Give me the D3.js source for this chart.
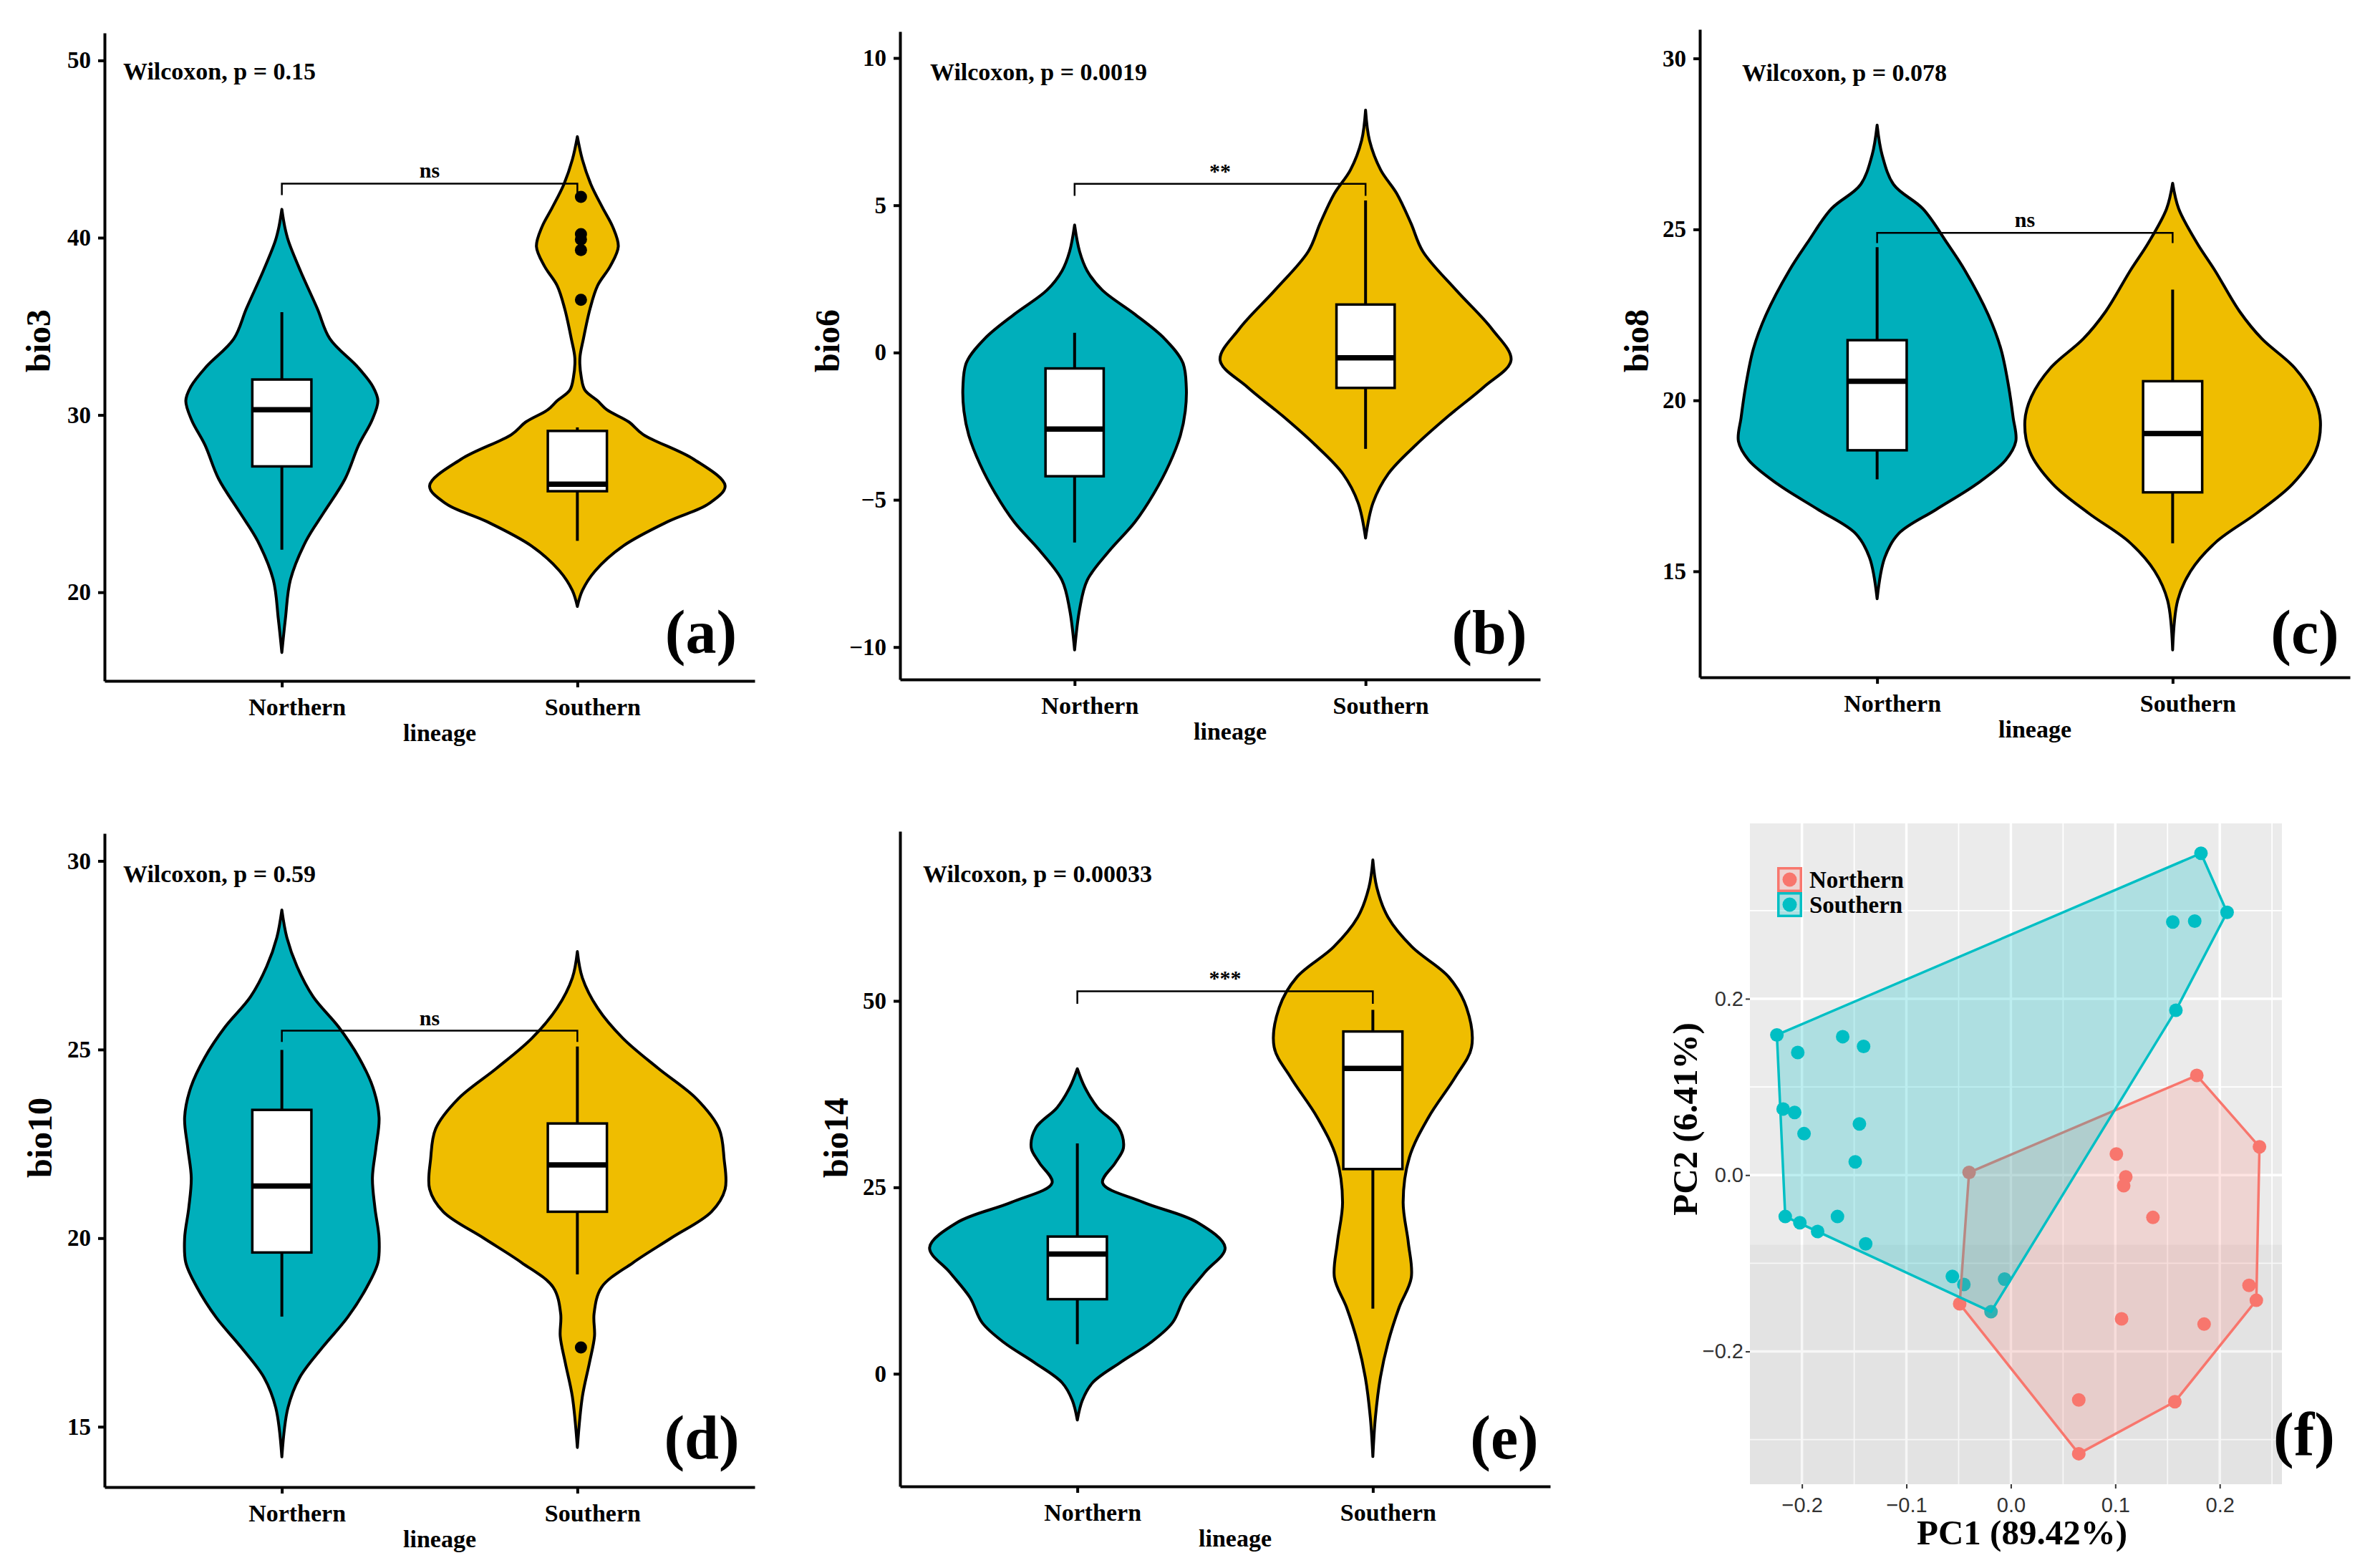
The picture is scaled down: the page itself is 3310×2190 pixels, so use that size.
<!DOCTYPE html>
<html>
<head>
<meta charset="utf-8">
<script src="https://cdn.jsdelivr.net/npm/d3@7"></script>
<style>
  body { margin: 0; background: #fff; }
  svg text { font-family: "Liberation Serif", "Times New Roman", serif; font-weight: bold; fill: #000; }
  svg text.sans { font-family: "Liberation Sans", Arial, sans-serif; font-weight: normal; fill: #333; }
</style>
</head>
<body>
<div id="chart"></div>
<script>
// ---- Data ----
const lineages = ["Northern", "Southern"];
const variables = ["bio3", "bio6", "bio8", "bio10", "bio14"];
const panelTags = ["(a)", "(b)", "(c)", "(d)", "(e)", "(f)"];
const wilcoxLabels = ["Wilcoxon, p = 0.15", "Wilcoxon, p = 0.0019", "Wilcoxon, p = 0.078",
                      "Wilcoxon, p = 0.59", "Wilcoxon, p = 0.00033"];
const wilcoxY = [49.4, 9.54, 29.6, 29.67, 67.1];
const signifLabels = ["ns", "**", "ns", "ns", "***"];
const bracketY = [43.05, 5.73, 24.9, 25.5, 51.3];
const bracketTip = [42.4, 5.32, 24.6, 25.2, 49.6];
const yTicks = [[20, 30, 40, 50], [-10, -5, 0, 5, 10], [15, 20, 25, 30], [15, 20, 25, 30], [0, 25, 50]];
const yRanges = [[15.0, 51.55], [-11.1, 10.9], [11.9, 30.85], [13.4, 30.73], [-15.1, 72.75]];

// violin outlines: [value, relative density]
const densBio3 = [
  [[41.6,0],[40.6,2],[39.8,4.5],[38.1,12.7],[36.0,24],[34.3,32.5],[32.7,51.4],[31.6,61.6],[30.8,65],[29.7,61],[28.3,52],[26.4,42.8],[24.5,28.4],[22.9,16.4],[20.7,5.8],[18.5,2.4],[16.6,0]],
  [[45.7,0],[44.4,3.4],[43.0,9.2],[41.7,17],[40.6,24],[39.5,27.7],[38.4,22.3],[37.3,13.7],[36.0,8.6],[34.3,4.1],[33.2,1.7],[32.1,2.7],[31.4,5.1],[30.8,13.7],[30.3,19.9],[29.6,35],[28.9,44.5],[27.5,78.8],[26.0,100],[25.0,89],[24.0,61.6],[22.6,30.8],[21.2,12],[20.1,3.4],[19.2,0]]
];
const densBio6 = [
  [[4.33,0],[3.43,3.4],[2.77,8.6],[2.12,18.8],[1.30,41],[0.48,61],[-0.34,73.6],[-1.17,76],[-1.99,75.3],[-2.81,72],[-3.79,64.4],[-4.78,54],[-5.76,41],[-6.75,23.3],[-7.73,8.6],[-8.72,3.4],[-10.1,0]],
  [[8.23,0],[7.2,2.7],[6.2,10.3],[5.4,21.2],[4.4,30.8],[3.43,39],[2.12,61.6],[0.8,86],[-0.26,99],[-1.17,80.5],[-2.15,56.5],[-3.14,34.2],[-4.12,15.4],[-5.1,5.1],[-6.3,0]]
];
const densBio8 = [
  [[28.05,0],[27.17,3.4],[26.3,11.3],[25.6,30.8],[24.6,47],[23.8,59],[22.5,74.7],[21.5,83.2],[20.4,88.4],[19.5,91.4],[18.8,93.2],[18.25,86.3],[17.55,66.8],[16.8,39.4],[16.1,14.4],[15.4,5.1],[14.2,0]],
  [[26.35,0],[25.6,4.1],[24.6,16.4],[23.8,28.4],[22.6,45],[21.8,60],[20.95,82],[20.1,95],[19.4,99.3],[18.5,96],[17.55,80.5],[16.7,56.5],[15.85,29],[15.0,12],[14.15,3.4],[12.7,0]]
];
const densBio10 = [
  [[28.7,0],[27.97,3.4],[27.2,10.3],[26.4,21.2],[25.6,38.4],[24.8,52],[24.0,61.6],[23.2,65.8],[22.4,63.7],[21.6,61.3],[20.8,63],[20.0,65.8],[19.35,65],[18.7,57.5],[17.9,44.5],[17.1,27.4],[16.3,12],[15.5,4.1],[14.2,0]],
  [[27.6,0],[26.9,3.4],[26.1,13.7],[25.3,30.8],[24.5,54.8],[23.7,80.5],[22.9,95.9],[22.1,99.3],[21.3,100],[20.7,90.8],[20.0,63.4],[19.35,37.7],[18.7,16.4],[18.0,11.3],[17.4,11.6],[16.7,8.2],[15.8,3.4],[14.45,0]]
];
const densBio14 = [
  [[40.9,0],[38.4,5.1],[35.7,13.7],[33.0,28],[30.3,31.2],[28.3,25.7],[25.6,17.1],[23.0,44.5],[20.3,81.2],[16.9,100],[13.6,86.3],[10.2,72.6],[6.85,64.4],[4.2,49.7],[1.5,29],[-1.2,10.3],[-3.55,3.4],[-6.2,0]],
  [[68.9,0],[65.2,2.7],[61.2,10.3],[57.2,26.7],[53.2,51.4],[49.1,63.4],[43.8,66.8],[39.7,55.5],[34.4,37.7],[29.0,24.7],[23.0,20.5],[17.6,24],[12.9,26],[8.9,17.8],[4.2,10.3],[-0.5,5.1],[-5.9,1.7],[-11.1,0]]
];
const densities = [densBio3, densBio6, densBio8, densBio10, densBio14];

// box stats: [lower whisker, q1, median, q3, upper whisker]
const boxBio3 = [[22.4, 27.1, 30.3, 32.0, 35.8], [22.9, 25.7, 26.1, 29.1, 29.3]];
const boxBio6 = [[-6.45, -4.2, -2.6, -0.54, 0.67], [-3.27, -1.2, -0.18, 1.63, 5.16]];
const boxBio8 = [[17.69, 18.54, 20.56, 21.76, 24.48], [15.82, 17.31, 19.03, 20.56, 23.24]];
const boxBio10 = [[17.92, 19.62, 21.38, 23.4, 24.99], [19.04, 20.7, 21.94, 23.04, 25.08]];
const boxBio14 = [[3.97, 10.0, 16.05, 18.4, 30.88], [8.73, 27.45, 40.94, 45.9, 48.8]];
const boxes = [boxBio3, boxBio6, boxBio8, boxBio10, boxBio14];
const outliers = [[[], [42.3, 40.2, 39.9, 39.3, 36.5]], [[], []], [[], []], [[], [17.1]], [[], []]];

// PCA scores [PC1, PC2]
const pcaNorthern = [[-0.040,0.003],[0.178,0.113],[0.238,0.032],[0.101,0.024],[0.110,-0.002],[0.108,-0.012],[0.136,-0.048],[0.228,-0.125],[0.235,-0.142],[-0.049,-0.146],[0.106,-0.163],[0.185,-0.169],[0.065,-0.255],[0.157,-0.257],[0.065,-0.316]];
const pcaSouthern = [[0.182,0.365],[0.207,0.298],[0.155,0.287],[0.176,0.288],[0.158,0.187],[-0.224,0.159],[-0.161,0.157],[-0.141,0.146],[-0.204,0.139],[-0.218,0.075],[-0.207,0.071],[-0.198,0.047],[-0.145,0.058],[-0.149,0.015],[-0.216,-0.047],[-0.202,-0.054],[-0.185,-0.064],[-0.166,-0.047],[-0.139,-0.078],[-0.056,-0.115],[-0.045,-0.124],[-0.006,-0.118],[-0.019,-0.155]];
const pcaXTicks = [-0.2, -0.1, 0.0, 0.1, 0.2];
const pcaYTicks = [-0.2, 0.0, 0.2];
const pcaXRange = [-0.2498, 0.2595];
const pcaYRange = [-0.3506, 0.3989];

// ---- Layout & style ----
const violinColors = ["#00AFBB", "#EFBD00"];
const pcaColors = ["#F8766D", "#00BFC4"];
const hullOpacity = [0.2, 0.26];
const layout = [
  { left: 146, right: 1054, top: 46, bottom: 951, titleX: 53, titleY: 476, wilcoxX: 172, tagX: 979, tagY: 912 },
  { left: 1257, right: 2151, top: 44, bottom: 949, titleX: 1155, titleY: 476, wilcoxX: 1299, tagX: 2080, tagY: 912 },
  { left: 2374, right: 3282, top: 41, bottom: 946, titleX: 2285, titleY: 476, wilcoxX: 2433, tagX: 3219, tagY: 912 },
  { left: 146, right: 1054, top: 1164, bottom: 2077, titleX: 55, titleY: 1589, wilcoxX: 172, tagX: 980, tagY: 2037 },
  { left: 1257, right: 2165, top: 1161, bottom: 2076, titleX: 1167, titleY: 1589, wilcoxX: 1289, tagX: 2101, tagY: 2037 }
];
const pcaBox = { left: 2444, right: 3187, top: 1150, bottom: 2073, tagX: 3218, tagY: 2033 };

// Create the SVG container
const svg = d3.select("#chart").append("svg")
  .attr("width", 3310)
  .attr("height", 2190);
svg.append("rect").attr("width", 3310).attr("height", 2190).attr("fill", "#fff");

// ---- Violin panels ----
variables.forEach((name, i) => {
  const L = layout[i];
  const g = svg.append("g");
  const x = d3.scalePoint().domain(lineages).range([L.left, L.right]).padding(0.6);
  const y = d3.scaleLinear().domain(yRanges[i]).range([L.bottom, L.top]);
  const step = x.step();
  const dens = densities[i];
  const w = d3.scaleLinear().domain([0, d3.max(dens.flat(), d => d[1])]).range([0, step / 2]);

  // violins
  lineages.forEach((lin, j) => {
    const cx = x(lin);
    const area = d3.area()
      .y(d => y(d[0]))
      .x0(d => cx - w(d[1]))
      .x1(d => cx + w(d[1]))
      .curve(d3.curveCatmullRom.alpha(0.5));
    g.append("path")
      .attr("d", area(dens[j]))
      .attr("fill", violinColors[j])
      .attr("stroke", "#000")
      .attr("stroke-width", 4)
      .attr("stroke-linejoin", "round");
  });

  // boxplots
  lineages.forEach((lin, j) => {
    const [lo, q1, med, q3, hi] = boxes[i][j];
    const cx = x(lin);
    const bw = step * 0.2;
    g.append("line").attr("x1", cx).attr("x2", cx).attr("y1", y(hi)).attr("y2", y(q3))
      .attr("stroke", "#000").attr("stroke-width", 4);
    g.append("line").attr("x1", cx).attr("x2", cx).attr("y1", y(q1)).attr("y2", y(lo))
      .attr("stroke", "#000").attr("stroke-width", 4);
    g.append("rect")
      .attr("x", cx - bw / 2).attr("y", y(q3))
      .attr("width", bw).attr("height", y(q1) - y(q3))
      .attr("fill", "#fff").attr("stroke", "#000").attr("stroke-width", 3.5);
    g.append("line").attr("x1", cx - bw / 2).attr("x2", cx + bw / 2).attr("y1", y(med)).attr("y2", y(med))
      .attr("stroke", "#000").attr("stroke-width", 7.5);
    g.selectAll(null).data(outliers[i][j]).enter().append("circle")
      .attr("cx", cx + 5).attr("cy", d => y(d)).attr("r", 8.5).attr("fill", "#000");
  });

  // significance bracket
  const xa = x(lineages[0]), xb = x(lineages[1]);
  g.append("path")
    .attr("d", `M${xa},${y(bracketTip[i])}V${y(bracketY[i])}H${xb}V${y(bracketTip[i])}`)
    .attr("fill", "none").attr("stroke", "#000").attr("stroke-width", 2.5);
  g.append("text")
    .attr("x", (xa + xb) / 2).attr("y", y(bracketY[i]) - 8)
    .attr("text-anchor", "middle").attr("font-size", 30)
    .text(signifLabels[i]);

  // axes
  const gy = g.append("g").attr("transform", `translate(${L.left},0)`)
    .call(d3.axisLeft(y).tickValues(yTicks[i]).tickSize(9).tickSizeOuter(0).tickPadding(10));
  const gx = g.append("g").attr("transform", `translate(0,${L.bottom})`)
    .call(d3.axisBottom(x).tickSize(9).tickSizeOuter(0).tickPadding(15));
  [gx, gy].forEach(ax => {
    ax.select(".domain").attr("stroke", "#000").attr("stroke-width", 4);
    ax.selectAll(".tick line").attr("stroke", "#000").attr("stroke-width", 4);
    ax.selectAll(".tick text").attr("font-size", 33);
  });
  gx.selectAll(".tick text").attr("font-size", 34).attr("dx", 21);

  // titles
  g.append("text")
    .attr("transform", `translate(${L.titleX},${L.titleY}) rotate(-90)`)
    .attr("text-anchor", "middle").attr("dy", "0.35em")
    .attr("font-size", 48).text(name);
  g.append("text")
    .attr("x", (L.left + L.right) / 2 + 14).attr("y", L.bottom + 84)
    .attr("text-anchor", "middle").attr("font-size", 34).text("lineage");
  g.append("text")
    .attr("x", L.wilcoxX).attr("y", y(wilcoxY[i])).attr("dy", "0.35em")
    .attr("font-size", 34).text(wilcoxLabels[i]);
  g.append("text")
    .attr("x", L.tagX).attr("y", L.tagY)
    .attr("text-anchor", "middle").attr("font-size", 86).text(panelTags[i]);
});

// ---- PCA panel ----
const P = pcaBox;
const gp = svg.append("g");
const px = d3.scaleLinear().domain(pcaXRange).range([P.left, P.right]);
const py = d3.scaleLinear().domain(pcaYRange).range([P.bottom, P.top]);

gp.append("rect")
  .attr("x", P.left).attr("y", P.top)
  .attr("width", P.right - P.left).attr("height", P.bottom - P.top)
  .attr("fill", "#EBEBEB");

// minor and major grid
const minorX = pcaXTicks.map(t => t + 0.05).concat([pcaXTicks[0] - 0.05]).filter(t => t > pcaXRange[0] && t < pcaXRange[1]);
const minorY = pcaYTicks.map(t => t + 0.1).concat([pcaYTicks[0] - 0.1]).filter(t => t > pcaYRange[0] && t < pcaYRange[1]);
gp.selectAll(".minx").data(minorX).enter().append("line")
  .attr("x1", d => px(d)).attr("x2", d => px(d)).attr("y1", P.top).attr("y2", P.bottom)
  .attr("stroke", "#fff").attr("stroke-width", 1.8);
gp.selectAll(".miny").data(minorY).enter().append("line")
  .attr("y1", d => py(d)).attr("y2", d => py(d)).attr("x1", P.left).attr("x2", P.right)
  .attr("stroke", "#fff").attr("stroke-width", 1.8);
gp.selectAll(".majx").data(pcaXTicks).enter().append("line")
  .attr("x1", d => px(d)).attr("x2", d => px(d)).attr("y1", P.top).attr("y2", P.bottom)
  .attr("stroke", "#fff").attr("stroke-width", 3.5);
gp.selectAll(".majy").data(pcaYTicks).enter().append("line")
  .attr("y1", d => py(d)).attr("y2", d => py(d)).attr("x1", P.left).attr("x2", P.right)
  .attr("stroke", "#fff").attr("stroke-width", 3.5);

// slight shading seen in the lower part of the panel
gp.append("rect")
  .attr("x", P.left).attr("y", py(-0.079))
  .attr("width", P.right - P.left).attr("height", P.bottom - py(-0.079))
  .attr("fill", "#000").attr("opacity", 0.03);

// points
[pcaNorthern, pcaSouthern].forEach((pts, j) => {
  gp.selectAll(null).data(pts).enter().append("circle")
    .attr("cx", d => px(d[0])).attr("cy", d => py(d[1])).attr("r", 9.5)
    .attr("fill", pcaColors[j]);
});

// convex hulls
[pcaNorthern, pcaSouthern].forEach((pts, j) => {
  const hull = d3.polygonHull(pts.map(d => [px(d[0]), py(d[1])]));
  gp.append("path")
    .attr("d", "M" + hull.join("L") + "Z")
    .attr("fill", pcaColors[j]).attr("fill-opacity", hullOpacity[j])
    .attr("stroke", pcaColors[j]).attr("stroke-width", 3.5)
    .attr("stroke-linejoin", "round");
});

// axes
const gpx = gp.append("g").attr("transform", `translate(0,${P.bottom})`)
  .call(d3.axisBottom(px).tickValues(pcaXTicks).tickSize(6).tickSizeOuter(0).tickPadding(12).tickFormat(d3.format(".1f")));
const gpy = gp.append("g").attr("transform", `translate(${P.left},0)`)
  .call(d3.axisLeft(py).tickValues(pcaYTicks).tickSize(6).tickSizeOuter(0).tickPadding(3).tickFormat(d3.format(".1f")));
[gpx, gpy].forEach(ax => {
  ax.select(".domain").remove();
  ax.selectAll(".tick line").attr("stroke", "#333").attr("stroke-width", 2);
  ax.selectAll(".tick text").attr("class", "sans").attr("font-size", 29);
});

gp.append("text")
  .attr("x", 2824).attr("y", 2157)
  .attr("text-anchor", "middle").attr("font-size", 49).text("PC1 (89.42%)");
gp.append("text")
  .attr("transform", "translate(2353,1563) rotate(-90)")
  .attr("text-anchor", "middle").attr("dy", "0.35em")
  .attr("font-size", 49).text("PC2 (6.41%)");

// legend
const legend = gp.append("g").attr("transform", "translate(2482,1211)");
lineages.forEach((lin, j) => {
  const row = legend.append("g").attr("transform", `translate(0,${j * 35})`);
  row.append("rect").attr("x", 1.75).attr("y", 1.75).attr("width", 31.5).attr("height", 31.5)
    .attr("fill", pcaColors[j]).attr("fill-opacity", hullOpacity[j])
    .attr("stroke", pcaColors[j]).attr("stroke-width", 3.5);
  row.append("circle").attr("cx", 17.5).attr("cy", 17.5).attr("r", 10).attr("fill", pcaColors[j]);
  row.append("text").attr("x", 45).attr("y", 17.5).attr("dy", "0.35em")
    .attr("font-size", 33).text(lin);
});

gp.append("text")
  .attr("x", P.tagX).attr("y", P.tagY)
  .attr("text-anchor", "middle").attr("font-size", 86).text(panelTags[5]);
</script>
</body>
</html>
